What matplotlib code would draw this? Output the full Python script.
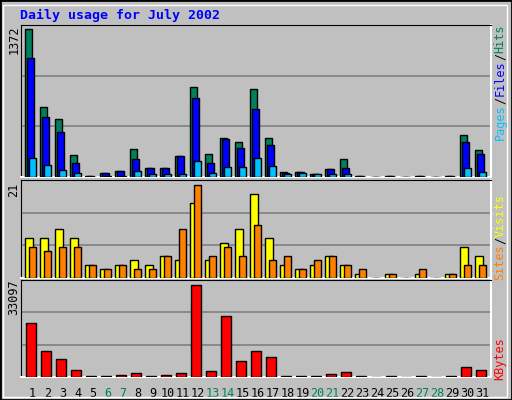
import matplotlib.pyplot as plt
from matplotlib.patches import Rectangle

days = list(range(1, 32))
weekend = [6, 7, 13, 14, 20, 21, 27, 28]

hits = [1372, 646, 534, 208, 5, 34, 53, 255, 87, 87, 192, 832, 217, 360, 323, 813,
        360, 43, 43, 25, 71, 171, 5, 0, 5, 0, 5, 0, 5, 385, 248]
files = [1102, 556, 413, 133, 5, 34, 53, 171, 87, 87, 192, 729, 133, 351, 267, 630,
         295, 37, 43, 25, 71, 81, 5, 0, 5, 0, 5, 0, 5, 320, 211]
pages = [180, 115, 68, 40, 0, 9, 9, 59, 25, 25, 31, 152, 40, 96, 96, 180,
         106, 25, 40, 25, 25, 31, 0, 0, 0, 0, 0, 0, 0, 87, 50]
visits = [9, 9, 11, 9, 3, 2, 3, 4, 3, 5, 4, 17, 4, 8, 11, 19,
          9, 3, 2, 3, 5, 3, 1, 0, 1, 0, 1, 0, 1, 7, 5]
sites = [7, 6, 7, 7, 3, 2, 3, 2, 2, 5, 11, 21, 5, 7, 5, 12,
         4, 5, 2, 4, 5, 3, 2, 0, 1, 0, 2, 0, 1, 3, 3]
kbytes = [19327, 9180, 6643, 2657, 400, 400, 845, 1570, 400, 845, 1570, 33097, 2295,
          21863, 5919, 9180, 7368, 400, 400, 400, 966, 1933, 400, 0, 400, 0, 400, 0,
          400, 3745, 2657]

BG = "#C0C0C0"
MONO = "DejaVu Sans Mono"

fig = plt.figure(figsize=(5.12, 4.0), dpi=100, facecolor=BG)
W, H = 512.0, 400.0

# outer border
fig.patches.append(Rectangle((0, 0), 1, 1, transform=fig.transFigure, fill=False,
                             edgecolor="black", linewidth=2))
fig.patches.append(Rectangle((3 / W, 3 / H), 1 - 8 / W, 1 - 8 / H, transform=fig.transFigure,
                             fill=False, edgecolor="white", linewidth=1))


def make_axes(top, bottom, ymax):
    ax = fig.add_axes([20.5 / W, 1 - bottom / H, 470 / W, (bottom - top) / H])
    ax.set_facecolor(BG)
    ax.set_xlim(0.69, 32.02)
    ax.set_ylim(0, ymax)
    for f in (1 / 3, 2 / 3):
        ax.axhline(f * ymax, color="#808080", linewidth=1.2, zorder=0)
    ax.set_xticks([])
    ax.set_yticks([])
    for s in ("top", "left"):
        ax.spines[s].set_color("black")
    for s in ("bottom", "right"):
        ax.spines[s].set_color("white")
        ax.spines[s].set_linewidth(1.5)
    return ax


def bars(ax, vals, off, width, color):
    x = [d + off for d in days]
    ax.bar(x, vals, width=width, align="edge", color=color, edgecolor="black",
           linewidth=1, zorder=3)


# hits / files / pages
ax1 = make_axes(25, 177, 1372 * 152 / 148)
bars(ax1, hits, 0.0, 0.48, "#00805C")
bars(ax1, files, 0.13, 0.48, "#0000FF")
bars(ax1, pages, 0.27, 0.48, "#00C0FF")

# visits / sites
ax2 = make_axes(180, 278, 21 * 99 / 94)
bars(ax2, visits, 0.0, 0.53, "#FFFF00")
bars(ax2, sites, 0.27, 0.48, "#FF8000")

# kbytes
ax3 = make_axes(280, 377, 33097 * 97 / 92)
bars(ax3, kbytes, 0.07, 0.66, "#FF0000")

for d in days:
    ax3.text(d + 0.5, -0.1, str(d), transform=ax3.get_xaxis_transform(), ha="center",
             va="top", fontsize=8.5, family=MONO,
             color="#00805C" if d in weekend else "black")

fig.text(20 / W, 1 - 15 / H, "Daily usage for July 2002", color="#0000FF",
         fontsize=9.5, family=MONO, weight="bold", va="center")

for y, lab in ((40, "1372"), (190, "21"), (297, "33097")):
    fig.text(14 / W, 1 - y / H, lab, rotation=90, ha="center", va="center",
             fontsize=8.5, family=MONO)


def side(parts, ycenter):
    # parts listed top to bottom
    total = sum(len(t) for t, _ in parts)
    y = ycenter - total * 3.6
    for t, c in parts:
        fig.text(500 / W, 1 - (y + len(t) * 7.2) / H, t, rotation=90, color=c,
                 ha="center", va="bottom", fontsize=8.5, family=MONO)
        y += len(t) * 7.2


side([("Hits", "#00805C"), ("/", "black"), ("Files", "#0000FF"), ("/", "black"),
      ("Pages", "#00C0FF")], 82)
side([("Visits", "#FFFF00"), ("/", "black"), ("Sites", "#FF8000")], 237)
side([("KBytes", "#FF0000")], 358)

fig.savefig("out.png", dpi=100, facecolor=BG)
